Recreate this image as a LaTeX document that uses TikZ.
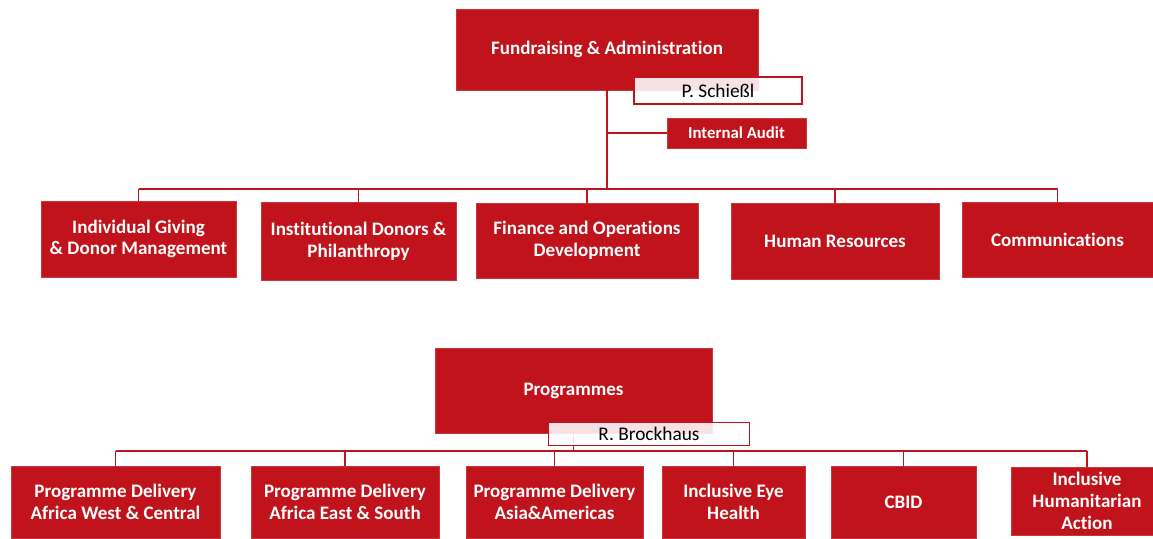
\documentclass[tikz,border=0pt]{standalone}
\usepackage{fontspec}
\setmainfont[Ligatures=NoCommon]{Carlito}
\definecolor{cbm}{HTML}{C0131B}
\begin{document}
\begin{tikzpicture}[x=0.75pt,y=-0.75pt,
  sz/.style 2 args={minimum width=#1*0.75pt, minimum height=#2*0.75pt},
  box/.style={fill=cbm, draw=cbm!85!white, line width=0.5pt, text=white,
    font=\bfseries\fontsize{14.3}{16.3}\selectfont, align=center, inner sep=0pt},
  namebox/.style={fill=white, fill opacity=0.88, text opacity=1, draw=cbm, line width=1pt,
    text=black, font=\fontsize{14.5}{17}\selectfont, inner sep=0pt},
  link/.style={draw=cbm, line width=1pt},
  mainlink/.style={draw=cbm, line width=1.4pt}]
\useasboundingbox (0,0) rectangle (1153,539);
\clip (0,0) rectangle (1153,539);

% top group
\node[box, sz={302}{81}] (fa) at (607,49.5) {Fundraising \& Administration};
\node[box, sz={139}{30}, font=\bfseries\fontsize{12.6}{15}\selectfont] (ia) at (736.5,133) {Internal Audit};
\node[box, sz={195}{76}] (c1) at (138.5,239) {Individual Giving\\\& Donor Management};
\node[box, sz={195}{78}] (c2) at (358.5,241) {Institutional Donors \&\\Philanthropy};
\node[box, sz={222}{75}] (c3) at (587,240.5) {Finance and Operations\\Development};
\node[box, sz={208}{76}] (c4) at (835,241) {Human Resources};
\node[box, sz={191}{75}] (c5) at (1057.5,239.5) {Communications};

\coordinate (b1) at (607,189);
\draw[mainlink] (fa.south) -- (b1);
\draw[mainlink] (fa.south |- ia.west) -- (ia.west);
\draw[link] (c1.north |- b1) -- (c5.north |- b1);
\foreach \c in {c1,c2,c3,c4,c5} \draw[link] (\c.north |- b1) -- (\c.north);

\node[namebox, sz={168}{27}] (pn) at (718,90.5) {P. Schießl};

% bottom group
\node[box, sz={277}{85}] (prog) at (573.5,390.5) {Programmes};
\node[box, sz={209}{72}] (d1) at (115.5,502) {Programme Delivery\\Africa West \& Central};
\node[box, sz={188}{72}] (d2) at (345,502) {Programme Delivery\\Africa East \& South};
\node[box, sz={177}{72}] (d3) at (554.5,502) {Programme Delivery\\Asia\&Americas};
\node[box, sz={143}{72}] (d4) at (733.5,502) {Inclusive Eye\\Health};
\node[box, sz={145}{72}] (d5) at (903.5,502) {CBID};
\node[box, sz={152}{68}] (d6) at (1087,501) {Inclusive\\Humanitarian\\Action};

\coordinate (b2) at (573.5,451);
\draw[link] (prog.south) -- (b2);
\draw[link] (d1.north |- b2) -- (d6.north |- b2);
\foreach \d in {d1,d2,d3,d4,d5,d6} \draw[link] (\d.north |- b2) -- (\d.north);

\node[namebox, sz={201}{23}] (rb) at (649,434) {R. Brockhaus};
\end{tikzpicture}
\end{document}
